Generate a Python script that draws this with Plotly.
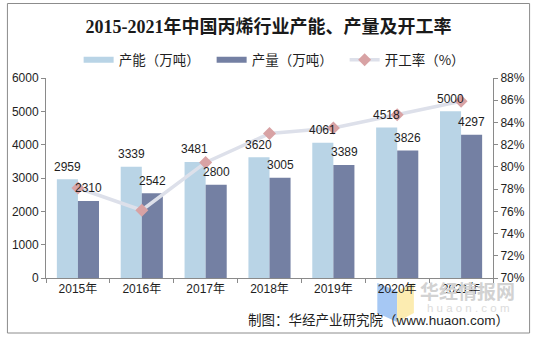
import plotly.graph_objects as go

# Data
years = ["2015年", "2016年", "2017年", "2018年", "2019年", "2020年", "2021年"]
capacity = [2959, 3339, 3481, 3620, 4061, 4518, 5000]      # 产能（万吨）
output = [2310, 2542, 2800, 3005, 3389, 3826, 4297]        # 产量（万吨）
utilization = [78.1, 76.1, 80.4, 83.0, 83.5, 84.7, 85.9]   # 开工率（%）

left_ticks = [0, 1000, 2000, 3000, 4000, 5000, 6000]
right_ticks = [70, 72, 74, 76, 78, 80, 82, 84, 86, 88]
right_labels = [f"{v}%" for v in right_ticks]

C_CAP = "#B9D4E6"
C_OUT = "#7480A3"
C_LINE = "#DDE0EA"
C_MARK = "#D8A2A4"
AXIS = "#8A8A8A"
TXT = "#1E1E1E"
SANS = "Liberation Sans, Noto Sans CJK SC, sans-serif"
CJK = "Noto Sans CJK SC, sans-serif"

# plot-area geometry in pixels (537 x 338 canvas)
W_PX, H_PX = 537, 338
L, R, T, B = 43, 495, 78, 278
PW, PH = R - L, B - T


def px(x):
    return (x - L) / PW


def py(y):
    return (B - y) / PH


BARGAP = 0.34
half_bar = (1 - BARGAP) * (PW / len(years)) / 4  # offset of each bar centre

fig = go.Figure()

fig.add_trace(go.Bar(x=years, y=capacity, name="产能（万吨）", marker=dict(color=C_CAP, line=dict(width=0)),
                     showlegend=False, hoverinfo="x+y"))
fig.add_trace(go.Bar(x=years, y=output, name="产量（万吨）", marker=dict(color=C_OUT, line=dict(width=0)),
                     showlegend=False, hoverinfo="x+y"))

# legend swatches drawn as thick strokes
fig.add_trace(go.Scatter(x=[None], y=[None], mode="lines", name="产能（万吨）",
                         line=dict(color=C_CAP, width=6), hoverinfo="skip"))
fig.add_trace(go.Scatter(x=[None], y=[None], mode="lines", name="产量（万吨）",
                         line=dict(color=C_OUT, width=6), hoverinfo="skip"))

fig.add_trace(go.Scatter(x=years, y=utilization, name="开工率（%）", yaxis="y2", mode="lines+markers",
                         line=dict(color=C_LINE, width=3.5),
                         marker=dict(symbol="diamond", size=10, color=C_MARK, line=dict(width=0))))

annotations = []
for yr, cap, out in zip(years, capacity, output):
    annotations.append(dict(x=yr, y=cap, xref="x", yref="y", text=str(cap), showarrow=False,
                            xshift=-half_bar, yshift=12.7, yanchor="middle",
                            font=dict(family=SANS, size=12, color=TXT)))
    annotations.append(dict(x=yr, y=out, xref="x", yref="y", text=str(out), showarrow=False,
                            xshift=half_bar, yshift=12.7, yanchor="middle",
                            font=dict(family=SANS, size=12, color=TXT)))

# source line and site mark
annotations.append(dict(x=px(513), y=py(320.7), xref="paper", yref="paper", xanchor="right", yanchor="middle",
                        text="制图：华经产业研究院（www.huaon.com）", showarrow=False,
                        font=dict(family=SANS, size=13.5, color=TXT)))
annotations.append(dict(x=px(469), y=py(290), xref="paper", yref="paper", xanchor="center", yanchor="middle",
                        text="<b>华经情报网</b>", showarrow=False,
                        font=dict(family=CJK, size=19, color="#D2D2D2")))
annotations.append(dict(x=px(470), y=py(308), xref="paper", yref="paper", xanchor="center", yanchor="middle",
                        text="h u a o n . c o m", showarrow=False,
                        font=dict(family=SANS, size=11.5, color="#DCDCDC")))


def poly(points):
    return "M " + " L ".join(f"{px(x):.4f},{py(y):.4f}" for x, y in points) + " Z"


shapes = [
    dict(type="rect", xref="paper", yref="paper", x0=px(4), x1=px(532), y0=py(333), y1=py(3.5),
         line=dict(color="#8C8C8C", width=1), fillcolor="rgba(0,0,0,0)", layer="below"),
    dict(type="path", xref="paper", yref="paper", path=poly([(378, 283), (398, 291), (398, 322), (378, 313)]),
         fillcolor="rgba(150,190,242,0.85)", line=dict(width=0), layer="below"),
    dict(type="path", xref="paper", yref="paper", path=poly([(398, 291), (415, 283), (415, 313), (398, 322)]),
         fillcolor="rgba(252,234,168,0.9)", line=dict(width=0), layer="below"),
]

fig.update_layout(
    width=W_PX, height=H_PX,
    margin=dict(l=L, r=W_PX - R, t=T, b=H_PX - B, pad=0),
    paper_bgcolor="white", plot_bgcolor="white",
    barmode="group", bargap=BARGAP, bargroupgap=0,
    title=dict(text="<b>2015-2021年中国丙烯行业产能、产量及开工率</b>",
               x=0.5, xref="container", xanchor="center",
               y=1 - 26.7 / H_PX, yref="container", yanchor="middle",
               font=dict(family="Liberation Serif, Noto Sans CJK SC, serif", size=18, color="#1A1A1A")),
    legend=dict(orientation="h", x=px(76), y=py(60), xanchor="left", yanchor="middle",
                font=dict(family=CJK, size=13.5, color=TXT), entrywidth=88, entrywidthmode="pixels",
                itemclick=False, itemdoubleclick=False, bgcolor="rgba(0,0,0,0)"),
    xaxis=dict(type="category", showline=True, linecolor=AXIS, linewidth=1,
               ticks="outside", tickson="boundaries", ticklen=4, tickcolor=AXIS,
               showgrid=False, tickfont=dict(family=SANS, size=12, color=TXT)),
    yaxis=dict(range=[0, 6000], tickvals=left_ticks, showline=True, linecolor=AXIS, linewidth=1,
               ticks="outside", ticklen=4, tickcolor=AXIS, showgrid=False, zeroline=False,
               tickfont=dict(family=SANS, size=12, color=TXT)),
    yaxis2=dict(range=[70, 88], tickmode="array", tickvals=right_ticks, ticktext=right_labels,
                overlaying="y", side="right",
                showline=True, linecolor=AXIS, linewidth=1, ticks="outside", ticklen=4, tickcolor=AXIS,
                showgrid=False, zeroline=False, tickfont=dict(family=SANS, size=12, color=TXT)),
    annotations=annotations,
    shapes=shapes,
    hovermode="x",
)

fig.write_html("out.html")
